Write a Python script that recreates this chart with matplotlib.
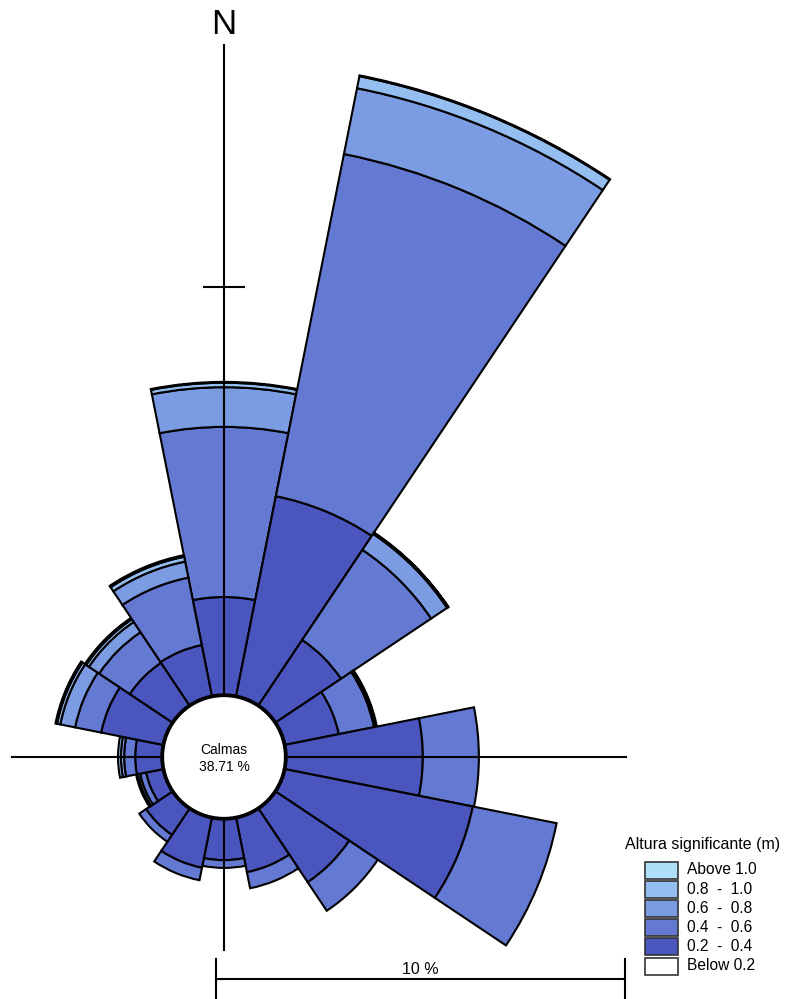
import matplotlib
matplotlib.use("Agg")
import matplotlib.pyplot as plt
from matplotlib.patches import Wedge, Circle, Rectangle

plt.rcParams['font.family'] = ['Liberation Sans', 'DejaVu Sans']

# frequency (%) per direction and wave height class
directions = ['N', 'NNE', 'NE', 'ENE', 'E', 'ESE', 'SE', 'SSE',
              'S', 'SSW', 'SW', 'WSW', 'W', 'WNW', 'NW', 'NNW']
below_02 = [0.04] * 16
h_02_04 = [2.38, 4.97, 1.91, 1.33, 3.33, 4.67, 2.15, 1.34,
           0.99, 1.23, 0.76, 0.41, 0.64, 1.53, 1.24, 1.26]
h_04_06 = [4.16, 8.53, 2.65, 0.88, 1.37, 2.09, 0.84, 0.40,
           0.19, 0.31, 0.20, 0.15, 0.27, 0.65, 0.90, 1.68]
h_06_08 = [0.97, 1.64, 0.47, 0.05, 0.0, 0.0, 0.0, 0.0,
           0.0, 0.0, 0.0, 0.06, 0.08, 0.37, 0.30, 0.40]
h_08_10 = [0.11, 0.30, 0.03, 0.02, 0.0, 0.0, 0.0, 0.0,
           0.0, 0.0, 0.0, 0.04, 0.07, 0.08, 0.08, 0.12]
above_10 = [0.02, 0.02, 0.01, 0.0, 0.0, 0.0, 0.0, 0.0,
            0.0, 0.0, 0.0, 0.0, 0.0, 0.04, 0.04, 0.04]

bins = [below_02, h_02_04, h_04_06, h_06_08, h_08_10, above_10]
bin_labels = ['Below 0.2', '0.2  -  0.4', '0.4  -  0.6', '0.6  -  0.8',
              '0.8  -  1.0', 'Above 1.0']
bin_colors = ['white', '#4A55BE', '#6479D2', '#7B9CE3', '#94BEF0', '#AEE0FA']
calm_pct = 38.71
scale_pct = 10

W, H = 785, 999
CX, CY = 224, 757      # rose centre (pixels)
PX = 40.9              # pixels per percent
R0 = 61 / PX           # calm circle radius


def pix(x, y):
    return (x - CX) / PX, (CY - y) / PX


fig = plt.figure(figsize=(W / 100, H / 100), dpi=100)
ax = fig.add_axes([0, 0, 1, 1])
ax.set_xlim(-CX / PX, (W - CX) / PX)
ax.set_ylim(-(H - CY) / PX, CY / PX)
ax.set_aspect('equal')
ax.axis('off')

# sectors
width = 360 / len(directions)
for i, d in enumerate(directions):
    mid = 90 - i * width
    r = R0
    for vals, col in zip(bins, bin_colors):
        v = vals[i]
        if v <= 0:
            continue
        r += v
        ax.add_patch(Wedge((0, 0), r, mid - width / 2, mid + width / 2,
                           width=v, facecolor=col, edgecolor='black',
                           lw=1.5, zorder=2))

# axes cross
ax.plot([pix(12, 0)[0], pix(626, 0)[0]], [0, 0], color='black', lw=1.5, zorder=3)
ax.plot([0, 0], [pix(0, 950)[1], pix(0, 45)[1]], color='black', lw=1.5, zorder=3)
ax.plot([-0.5, 0.5], [R0 + scale_pct] * 2, color='black', lw=1.5, zorder=3)
ax.text(0, pix(0, 25)[1], 'N', ha='center', va='center', fontsize=25)

# calm circle
ax.add_patch(Circle((0, 0), R0, facecolor='white', edgecolor='black', lw=1.6, zorder=4))
ax.text(0, pix(0, 750)[1], 'Calmas', ha='center', va='center', fontsize=10, zorder=5)
ax.text(0, pix(0, 767)[1], f'{calm_pct:.2f} %', ha='center', va='center',
        fontsize=10, zorder=5)

# scale bar
x0 = pix(216, 0)[0]
yb = pix(0, 979)[1]
ax.plot([x0, x0 + scale_pct], [yb, yb], color='black', lw=1.5)
for xx in (x0, x0 + scale_pct):
    ax.plot([xx, xx], [pix(0, 959)[1], pix(0, 1005)[1]], color='black', lw=1.5)
ax.text(x0 + scale_pct / 2, pix(0, 970)[1], f'{scale_pct} %', ha='center',
        va='center', fontsize=11.5)

# legend
tx, ty = pix(703, 844)
ax.text(tx, ty, 'Altura significante (m)', ha='center', va='center', fontsize=11.5)
for k, (lab, col) in enumerate(zip(bin_labels[::-1], bin_colors[::-1])):
    yc = 870 + k * 19.2
    bx, by = pix(645, yc + 8.5)
    ax.add_patch(Rectangle((bx, by), 33 / PX, 17 / PX, facecolor=col,
                           edgecolor='#333333', lw=1.2))
    lx, ly = pix(687, yc)
    ax.text(lx, ly, lab, ha='left', va='center', fontsize=11.2)

fig.savefig('out.png', dpi=100)
